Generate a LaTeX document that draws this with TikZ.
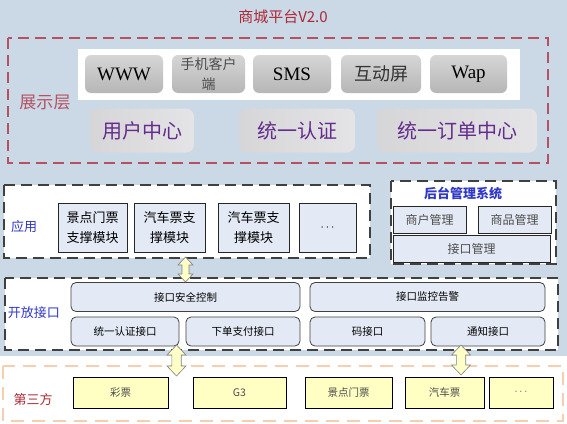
\documentclass[tikz,border=0pt]{standalone}
\usepackage{fontspec}
\setmainfont{Liberation Serif}
\newfontfamily\cjk{Noto Sans CJK SC}

\definecolor{bgblue}{RGB}{203,216,230}
\definecolor{showred}{RGB}{180,82,98}
\definecolor{titlered}{RGB}{172,40,52}
\definecolor{btntop}{RGB}{214,214,214}
\definecolor{btnbot}{RGB}{182,182,182}
\definecolor{ctrleft}{RGB}{214,214,216}
\definecolor{ctrright}{RGB}{228,228,230}
\definecolor{ctrtext}{RGB}{100,44,140}
\definecolor{modfill}{RGB}{228,234,245}
\definecolor{labelblue}{RGB}{48,56,200}
\definecolor{partyellow}{RGB}{255,255,196}
\definecolor{partdash}{RGB}{246,206,176}
\definecolor{linkfill}{RGB}{255,255,200}

\begin{document}
\begin{tikzpicture}[x=1pt,y=-1pt,inner sep=0pt]
        \tikzstyle{frame}=[line width=1.5pt, dash pattern=on 11pt off 6pt]
        \tikzstyle{button}=[
            rounded corners=6pt, top color=btntop, bottom color=btnbot,
            minimum height=38pt
        ]
        \tikzstyle{center box}=[rounded corners=8pt, left color=ctrleft,
            right color=ctrright, minimum height=44pt, text=ctrtext,
            font=\cjk\fontsize{20}{22}\selectfont]
        \tikzstyle{module}=[draw=black!85, fill=modfill, line width=0.8pt,
            minimum height=49pt, align=center,
            font=\cjk\fontsize{13}{20}\selectfont]
        \tikzstyle{admin}=[module, minimum height=27pt, text=black!70,
            font=\cjk\fontsize{12}{14}\selectfont]
        \tikzstyle{port}=[draw=black!75, fill=modfill, rounded corners=5pt,
            line width=0.8pt, minimum height=29pt,
            font=\cjk\fontsize{10.5}{12}\selectfont]
        \tikzstyle{partner}=[draw=black, fill=partyellow, line width=0.8pt,
            minimum height=31pt, text=black!70,
            font=\cjk\fontsize{10.5}{12}\selectfont]
        \tikzstyle{link}=[draw=black!50, fill=linkfill, line width=0.6pt,
            line join=miter]
        \tikzstyle{layer}=[font=\cjk\fontsize{13}{15}\selectfont]

        \useasboundingbox (0,0) rectangle (567,423);
        \fill[bgblue] (0,0) rectangle (567,356);

        % Title and the presentation layer
        \node[text=titlered, font=\cjk\fontsize{15}{17}\selectfont]
            (title) at (283,17) {商城平台V2.0};
        \draw[frame, showred] (8,38) rectangle (548,163);
        \node[layer, text=showred, font=\cjk\fontsize{17}{19}\selectfont]
            (show) at (45,103) {展示层};
        \fill[white] (78,49) rectangle (520,100);

        % Draw the client buttons
        \foreach \id / \x / \w / \txt in {1/124/78/WWW, 3/292/78/SMS, 5/468.5/77/Wap}
            \node[button, minimum width=\w pt, font=\fontsize{19}{21}\selectfont]
                (P-\id) at (\x,74) {\txt};
        \node[button, minimum width=73pt, align=center, text=black!70,
            font=\cjk\fontsize{14}{20}\selectfont] (P-2) at (208.5,74) {手机客户\\端};
        \node[button, minimum width=80pt, text=black!80,
            font=\cjk\fontsize{18}{20}\selectfont] (P-4) at (381,74) {互动屏};

        \foreach \id / \x / \w / \txt in {1/142/104/用户中心, 2/297/116/统一认证,
                3/457/160/统一订单中心}
            \node[center box, minimum width=\w pt] (C-\id) at (\x,130.5) {\txt};

        % Draw the application layer
        \draw[frame, black!75, fill=white] (4,185) rectangle (370,258);
        \node[layer, text=labelblue] (app) at (24,227) {应用};
        \foreach \id / \x / \w / \txt in {1/92.5/69/{景点门票\\支撑模块},
                2/169.5/71/{汽车票支\\撑模块}, 3/253.5/71/{汽车票支\\撑模块},
                4/327.5/57/{$\cdots$}}
            \node[module, minimum width=\w pt] (A-\id) at (\x,227.5) {\txt};

        % Draw the back office
        \draw[frame, black!75, fill=white] (391,181) rectangle (556,264);
        \node[text=labelblue, font=\cjk\bfseries\fontsize{13}{15}\selectfont]
            (office) at (463,193) {后台管理系统};
        \node[admin, minimum width=73pt] (B-1) at (429.5,219.5) {商户管理};
        \node[admin, minimum width=73pt] (B-2) at (514.5,219.5) {商品管理};
        \node[admin, minimum width=157pt] (B-3) at (471.5,248.5) {接口管理};

        % Draw the open interface layer
        \draw[frame, black!75, fill=white] (5,278) rectangle (558,350);
        \node[layer, text=labelblue] (open) at (34,313) {开放接口};
        \node[port, minimum width=229pt] (K-1) at (185.5,297) {接口安全控制};
        \node[port, minimum width=235pt] (K-2) at (427.5,297) {接口监控告警};
        \foreach \id / \x / \w / \txt in {3/125/108/统一认证接口, 4/243/114/下单支付接口,
                5/367.5/115/码接口, 6/488/114/通知接口}
            \node[port, minimum width=\w pt] (K-\id) at (\x,331.5) {\txt};

        % Draw the third party layer
        \draw[line width=1.2pt, partdash, dash pattern=on 13pt off 8pt]
            (3,366) rectangle (563,421);
        \node[layer, text=titlered] (third) at (33,400) {第三方};
        \foreach \id / \x / \w / \txt in {1/120.5/95/彩票, 2/239.5/93/G3,
                3/348.5/87/景点门票, 4/444.5/79/汽车票, 5/521/64/{$\cdots$}}
            \node[partner, minimum width=\w pt] (T-\id) at (\x,392.5) {\txt};

        % Links between the layers (double block arrows)
        \foreach \x / \t / \b / \h / \s / \k in {185.5/257/282/7.5/3.5/8,
                176.5/345/376/9.5/4.7/10, 461/345/375/9.5/4.7/10}
            \draw[link] (\x,\t) -- (\x+\h,\t+\k) -- (\x+\s,\t+\k)
                -- (\x+\s,\b-\k) -- (\x+\h,\b-\k) -- (\x,\b)
                -- (\x-\h,\b-\k) -- (\x-\s,\b-\k) -- (\x-\s,\t+\k)
                -- (\x-\h,\t+\k) -- cycle;
    \end{tikzpicture}
\end{document}
